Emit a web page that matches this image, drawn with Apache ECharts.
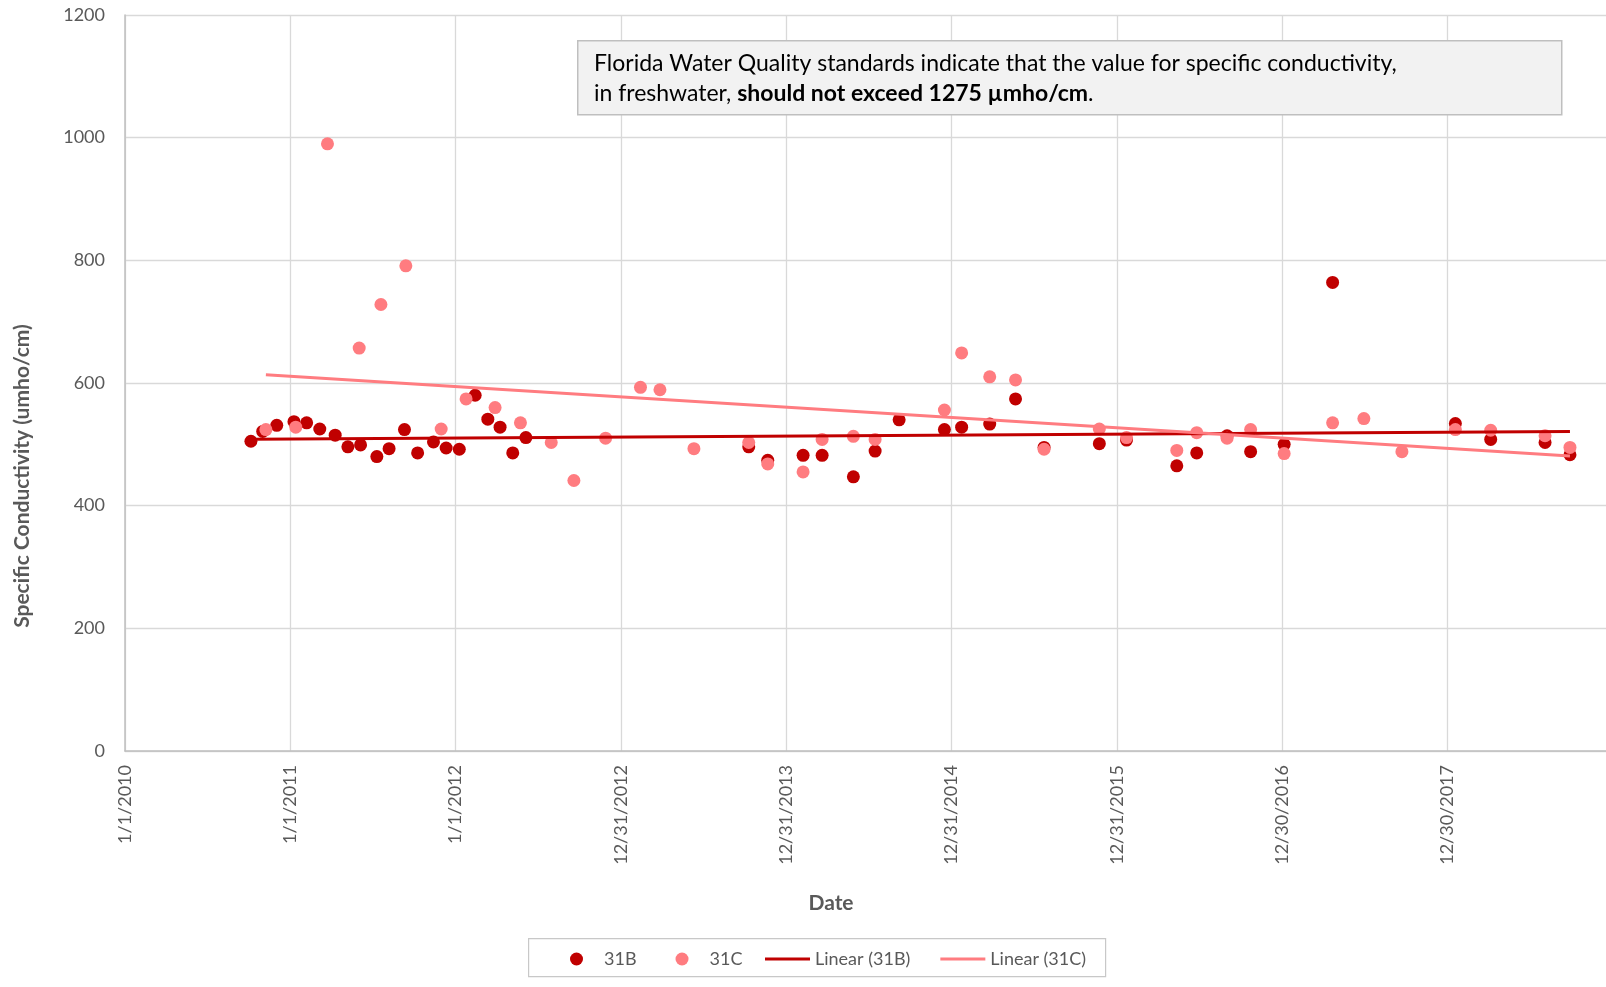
<!DOCTYPE html>
<html>
<head>
<meta charset="utf-8">
<script src="https://cdn.jsdelivr.net/npm/echarts@6/dist/echarts.min.js"></script>
<style>
  html, body { margin: 0; padding: 0; background: #ffffff; }
  #chart { width: 1606px; height: 987px; }
</style>
</head>
<body>
<div id="chart"></div>
<script>
// Dates are stored as days since 1/1/2010
const days31B = [278, 304, 335, 373, 401, 430, 464, 492, 520, 556, 583, 617, 646, 681, 709, 738, 773, 801, 828, 856, 885,
  1377, 1419, 1497, 1539, 1608, 1656, 1709, 1809, 1847, 1909, 1966, 2029, 2151, 2211, 2322, 2366, 2433, 2485, 2559, 2666,
  2937, 3015, 3135, 3190];
const values31B = [505, 521, 531, 537, 535, 525, 515, 496, 499, 480, 493, 524, 486, 504, 494, 492, 580, 541, 528, 486, 511,
  496, 474, 482, 482, 447, 489, 540, 524, 528, 533, 574, 495, 501, 507, 465, 486, 514, 488, 500, 764,
  534, 508, 503, 483];

const days31C = [311, 377, 447, 517, 565, 620, 698, 753, 817, 873, 941, 991, 1061, 1138, 1181, 1256, 1377, 1419, 1497, 1539,
  1608, 1656, 1809, 1847, 1909, 1966, 2029, 2151, 2211, 2322, 2366, 2433, 2485, 2559, 2666, 2735, 2819, 2937, 3015, 3135, 3190];
const values31C = [524, 528, 990, 657, 728, 791, 525, 574, 560, 535, 503, 441, 510, 593, 589, 493, 503, 468, 455, 508,
  513, 508, 556, 649, 610, 605, 492, 525, 511, 490, 519, 510, 524, 485, 535, 542, 488, 524, 523, 514, 495];

const seriesNames = ['31B', '31C', 'Linear (31B)', 'Linear (31C)'];
const yTicks = [0, 200, 400, 600, 800, 1000, 1200];
const xTickStep = 365; // days between date ticks
const noteLine1 = 'Florida Water Quality standards indicate that the value for specific conductivity,';
const noteLine2a = 'in freshwater, ';
const noteLine2b = 'should not exceed 1275 \u00b5mho/cm';
const noteLine2c = '.';

const COL_B = '#C00000';
const COL_C = '#FF7C80';
const FONT = 'Lato';
const TXT = '#595959';

function pairs(xs, ys) { return xs.map((x, i) => [x, ys[i]]); }
function trend(xs, ys) {
  const n = xs.length;
  let sx = 0, sy = 0, sxx = 0, sxy = 0;
  for (let i = 0; i < n; i++) { sx += xs[i]; sy += ys[i]; sxx += xs[i] * xs[i]; sxy += xs[i] * ys[i]; }
  const b = (n * sxy - sx * sy) / (n * sxx - sx * sx);
  const a = (sy - b * sx) / n;
  const x0 = Math.min(...xs), x1 = Math.max(...xs);
  return [[x0, a + b * x0], [x1, a + b * x1]];
}
function fmtDate(d) {
  const t = new Date(Date.UTC(2010, 0, 1) + d * 86400000);
  return (t.getUTCMonth() + 1) + '/' + t.getUTCDate() + '/' + t.getUTCFullYear();
}

const LINE_ICON = 'path://M0 0H45V3H0Z';

const chart = echarts.init(document.getElementById('chart'), null, { renderer: 'canvas' });
const option = {
  backgroundColor: '#ffffff',
  animation: false,
  textStyle: { fontFamily: FONT },
  grid: { left: 125, top: 15, width: 1488, bottom: 236, containLabel: false, outerBoundsMode: 'none' },
  xAxis: {
    type: 'value',
    min: 0,
    max: xTickStep * 9,
    interval: xTickStep,
    axisLine: { show: true, lineStyle: { color: '#BFBFBF', width: 1.5 } },
    axisTick: { show: false },
    splitLine: { show: true, lineStyle: { color: '#D9D9D9', width: 1.3 } },
    axisLabel: {
      rotate: 90, margin: 14, color: TXT, fontSize: 18, fontFamily: FONT,
      showMaxLabel: false,
      formatter: v => fmtDate(v)
    }
  },
  yAxis: {
    type: 'value',
    min: yTicks[0],
    max: yTicks[yTicks.length - 1],
    interval: 200,
    axisLine: { show: true, lineStyle: { color: '#BFBFBF', width: 1.5 } },
    axisTick: { show: false },
    splitLine: { show: true, lineStyle: { color: '#D9D9D9', width: 1.3 } },
    axisLabel: { margin: 20, color: TXT, fontSize: 18, fontFamily: FONT, formatter: v => String(v) }
  },
  legend: [
    {
      left: 570, top: 950, padding: 0,
      itemWidth: 45, itemHeight: 13, itemGap: 39,
      textStyle: { color: TXT, fontSize: 18, fontFamily: FONT },
      data: [
        { name: seriesNames[0], icon: 'circle' },
        { name: seriesNames[1], icon: 'circle' }
      ]
    },
    {
      left: 765, top: 950, padding: 0,
      itemWidth: 45, itemHeight: 13, itemGap: 30,
      textStyle: { color: TXT, fontSize: 18, fontFamily: FONT },
      data: [
        { name: seriesNames[2], icon: LINE_ICON },
        { name: seriesNames[3], icon: LINE_ICON }
      ]
    }
  ],
  graphic: [
    {
      type: 'rect', left: 528, top: 938, z: 1, silent: true,
      shape: { width: 577, height: 38 },
      style: { fill: 'transparent', stroke: '#C8C8C8', lineWidth: 1.2 }
    },
    {
      type: 'rect', left: 577, top: 40, z: 10,
      shape: { width: 984, height: 74 },
      style: { fill: '#F2F2F2', stroke: '#BFBFBF', lineWidth: 1.5 }
    },
    {
      type: 'text', left: 594, top: 49, z: 11,
      style: {
        text: noteLine1 + '\n' + noteLine2a + '{b|' + noteLine2b + '}' + noteLine2c,
        font: '23px ' + FONT,
        fill: '#000000',
        lineHeight: 29.5,
        rich: { b: { fontWeight: 'bold', fontSize: 23, fontFamily: FONT, fill: '#000000', lineHeight: 29.5 } }
      }
    },
    {
      type: 'text', z: 11,
      x: 22, y: 476, rotation: Math.PI / 2,
      style: {
        text: 'Specific Conductivity (umho/cm)',
        font: 'bold 21px ' + FONT, fill: TXT,
        align: 'center', verticalAlign: 'middle'
      }
    },
    {
      type: 'text', z: 11,
      x: 831, y: 903,
      style: {
        text: 'Date',
        font: 'bold 21px ' + FONT, fill: TXT,
        align: 'center', verticalAlign: 'middle'
      }
    }
  ],
  series: [
    {
      name: seriesNames[0], type: 'scatter', symbol: 'circle', symbolSize: 13,
      itemStyle: { color: COL_B, opacity: 1 }, data: pairs(days31B, values31B), z: 2
    },
    {
      name: seriesNames[1], type: 'scatter', symbol: 'circle', symbolSize: 13,
      itemStyle: { color: COL_C, opacity: 1 }, data: pairs(days31C, values31C), z: 3
    },
    {
      name: seriesNames[2], type: 'line', symbol: 'none', showSymbol: false,
      lineStyle: { color: COL_B, width: 3 }, itemStyle: { color: COL_B },
      data: trend(days31B, values31B), z: 4
    },
    {
      name: seriesNames[3], type: 'line', symbol: 'none', showSymbol: false,
      lineStyle: { color: COL_C, width: 3 }, itemStyle: { color: COL_C },
      data: trend(days31C, values31C), z: 5
    }
  ]
};
chart.setOption(option);
</script>
</body>
</html>
